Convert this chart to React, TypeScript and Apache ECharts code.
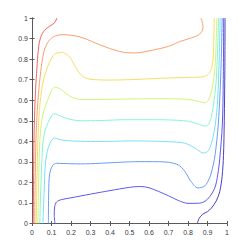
import React, { useEffect, useRef } from "react";
import * as echarts from "echarts";

const xTicks = [0, 0.1, 0.2, 0.3, 0.4, 0.5, 0.6, 0.7, 0.8, 0.9, 1];
const yTicks = [0, 0.1, 0.2, 0.3, 0.4, 0.5, 0.6, 0.7, 0.8, 0.9, 1];

const contourRed = [[0.006,0],[0.008,0.2],[0.01,0.4],[0.014,0.55],[0.02,0.68],[0.027,0.78],[0.034,0.86],[0.044,0.905],[0.064,0.94],[0.09,0.96],[0.115,0.976],[0.128,1]];
const contourOrange = [[0.014,0],[0.016,0.2],[0.02,0.4],[0.027,0.55],[0.036,0.66],[0.048,0.764],[0.065,0.85],[0.091,0.894],[0.12,0.913],[0.159,0.919],[0.21,0.915],[0.262,0.903],[0.347,0.87],[0.42,0.845],[0.476,0.832],[0.53,0.83],[0.6,0.84],[0.7,0.862],[0.76,0.886],[0.817,0.903],[0.855,0.918],[0.874,0.94],[0.877,0.962],[0.872,0.985],[0.866,1]];
const contourYellow = [[0.022,0],[0.025,0.2],[0.03,0.4],[0.038,0.55],[0.048,0.64],[0.062,0.71],[0.082,0.768],[0.1,0.805],[0.116,0.824],[0.151,0.833],[0.175,0.825],[0.193,0.81],[0.21,0.785],[0.228,0.754],[0.25,0.725],[0.279,0.706],[0.32,0.7],[0.4,0.698],[0.5,0.7],[0.6,0.704],[0.7,0.708],[0.8,0.711],[0.869,0.713],[0.895,0.72],[0.915,0.74],[0.926,0.78],[0.931,0.85],[0.935,1]];
const contourGreen = [[0.03,0],[0.034,0.2],[0.04,0.4],[0.05,0.5],[0.065,0.56],[0.08,0.6],[0.093,0.632],[0.105,0.655],[0.118,0.664],[0.135,0.66],[0.151,0.651],[0.175,0.632],[0.2,0.617],[0.245,0.604],[0.3,0.603],[0.4,0.604],[0.5,0.606],[0.6,0.607],[0.7,0.607],[0.8,0.604],[0.85,0.595],[0.886,0.587],[0.905,0.6],[0.922,0.651],[0.934,0.72],[0.941,0.8],[0.948,1]];
const contourAqua = [[0.04,0],[0.046,0.2],[0.055,0.38],[0.066,0.45],[0.082,0.49],[0.1,0.524],[0.116,0.534],[0.135,0.528],[0.159,0.518],[0.2,0.506],[0.25,0.5],[0.35,0.501],[0.476,0.505],[0.6,0.505],[0.7,0.504],[0.8,0.498],[0.85,0.485],[0.886,0.474],[0.905,0.482],[0.92,0.52],[0.934,0.6],[0.945,0.7],[0.952,0.85],[0.957,1]];
const contourCyan = [[0.056,0],[0.062,0.15],[0.068,0.28],[0.078,0.35],[0.092,0.39],[0.105,0.41],[0.116,0.416],[0.135,0.41],[0.17,0.404],[0.25,0.4],[0.35,0.399],[0.5,0.402],[0.6,0.401],[0.7,0.398],[0.783,0.391],[0.84,0.365],[0.877,0.343],[0.9,0.35],[0.915,0.375],[0.928,0.42],[0.94,0.48],[0.952,0.6],[0.96,0.8],[0.965,1]];
const contourLightBlue = [[0.084,0],[0.085,0.12],[0.088,0.22],[0.095,0.26],[0.108,0.285],[0.125,0.293],[0.16,0.292],[0.25,0.29],[0.35,0.293],[0.5,0.3],[0.6,0.301],[0.7,0.298],[0.75,0.285],[0.783,0.255],[0.815,0.205],[0.851,0.173],[0.885,0.182],[0.911,0.222],[0.928,0.28],[0.94,0.34],[0.955,0.48],[0.965,0.65],[0.972,0.85],[0.975,1]];
const contourBlue = [[0.118,0],[0.114,0.04],[0.116,0.08],[0.126,0.105],[0.15,0.116],[0.2,0.125],[0.3,0.143],[0.4,0.16],[0.5,0.176],[0.55,0.18],[0.6,0.174],[0.7,0.135],[0.75,0.112],[0.8,0.098],[0.86,0.099],[0.9,0.118],[0.937,0.172],[0.953,0.24],[0.963,0.318],[0.976,0.48],[0.981,0.7],[0.983,1]];
const contourNavy = [[0.848,0],[0.857,0.025],[0.875,0.045],[0.9,0.058],[0.92,0.075],[0.945,0.11],[0.963,0.156],[0.975,0.23],[0.982,0.33],[0.986,0.5],[0.989,0.75],[0.99,1]];

const contours = [
  { data: contourRed, color: "#f26464" },
  { data: contourOrange, color: "#f8a06c" },
  { data: contourYellow, color: "#f8dc64" },
  { data: contourGreen, color: "#cff57a" },
  { data: contourAqua, color: "#8af5c8" },
  { data: contourCyan, color: "#78e0f8" },
  { data: contourLightBlue, color: "#6a9cf8" },
  { data: contourBlue, color: "#5a5af0" },
  { data: contourNavy, color: "#4a40c0" },
];

export default function App() {
  const ref = useRef<HTMLDivElement>(null);
  useEffect(() => {
    if (!ref.current) return;
    const chart = echarts.init(ref.current, undefined, { renderer: "svg" });
    const axisColor = "#5a5a5a";
    const labelStyle = { color: "#3a3a3a", fontSize: 7, fontFamily: "Liberation Sans, Arial, sans-serif" };
    const fmt = (v: number) => {
      const r = Math.round(v * 10) / 10;
      return String(r);
    };
    chart.setOption({
      animation: false,
      backgroundColor: "#ffffff",
      grid: { left: 32, top: 18, width: 195, height: 205.5, containLabel: false },
      xAxis: [
        {
          type: "value", min: 0, max: 1, interval: 0.1, position: "bottom",
          axisLine: { show: true, lineStyle: { color: axisColor, width: 1 } },
          axisTick: { show: true, inside: true, length: 2.5, lineStyle: { color: axisColor } },
          axisLabel: { ...labelStyle, margin: 5, formatter: fmt, showMinLabel: true, showMaxLabel: true },
          splitLine: { show: false },
        },
        {
          type: "value", min: 0, max: 1, interval: 0.1, position: "top",
          axisLine: { show: true, lineStyle: { color: axisColor, width: 1 } },
          axisTick: { show: true, inside: true, length: 2.5, lineStyle: { color: axisColor } },
          axisLabel: { show: false },
          splitLine: { show: false },
        },
      ],
      yAxis: [
        {
          type: "value", min: 0, max: 1, interval: 0.1, position: "left",
          axisLine: { show: true, lineStyle: { color: axisColor, width: 1 } },
          axisTick: { show: true, inside: true, length: 2.5, lineStyle: { color: axisColor } },
          axisLabel: { ...labelStyle, margin: 4, formatter: fmt, showMinLabel: true, showMaxLabel: true },
          splitLine: { show: false },
        },
        {
          type: "value", min: 0, max: 1, interval: 0.1, position: "right",
          axisLine: { show: true, lineStyle: { color: axisColor, width: 1 } },
          axisTick: { show: true, inside: true, length: 2.5, lineStyle: { color: axisColor } },
          axisLabel: { show: false },
          splitLine: { show: false },
        },
      ],
      series: contours.map((c) => ({
        type: "line",
        xAxisIndex: 0,
        yAxisIndex: 0,
        data: c.data,
        showSymbol: false,
        smooth: 0.3,
        lineStyle: { color: c.color, width: 1 },
        silent: true,
      })),
    });
    return () => chart.dispose();
  }, []);
  return <div ref={ref} style={{ position: "fixed", left: 0, top: 0, width: 251, height: 251 }} />;
}

void xTicks;
void yTicks;
